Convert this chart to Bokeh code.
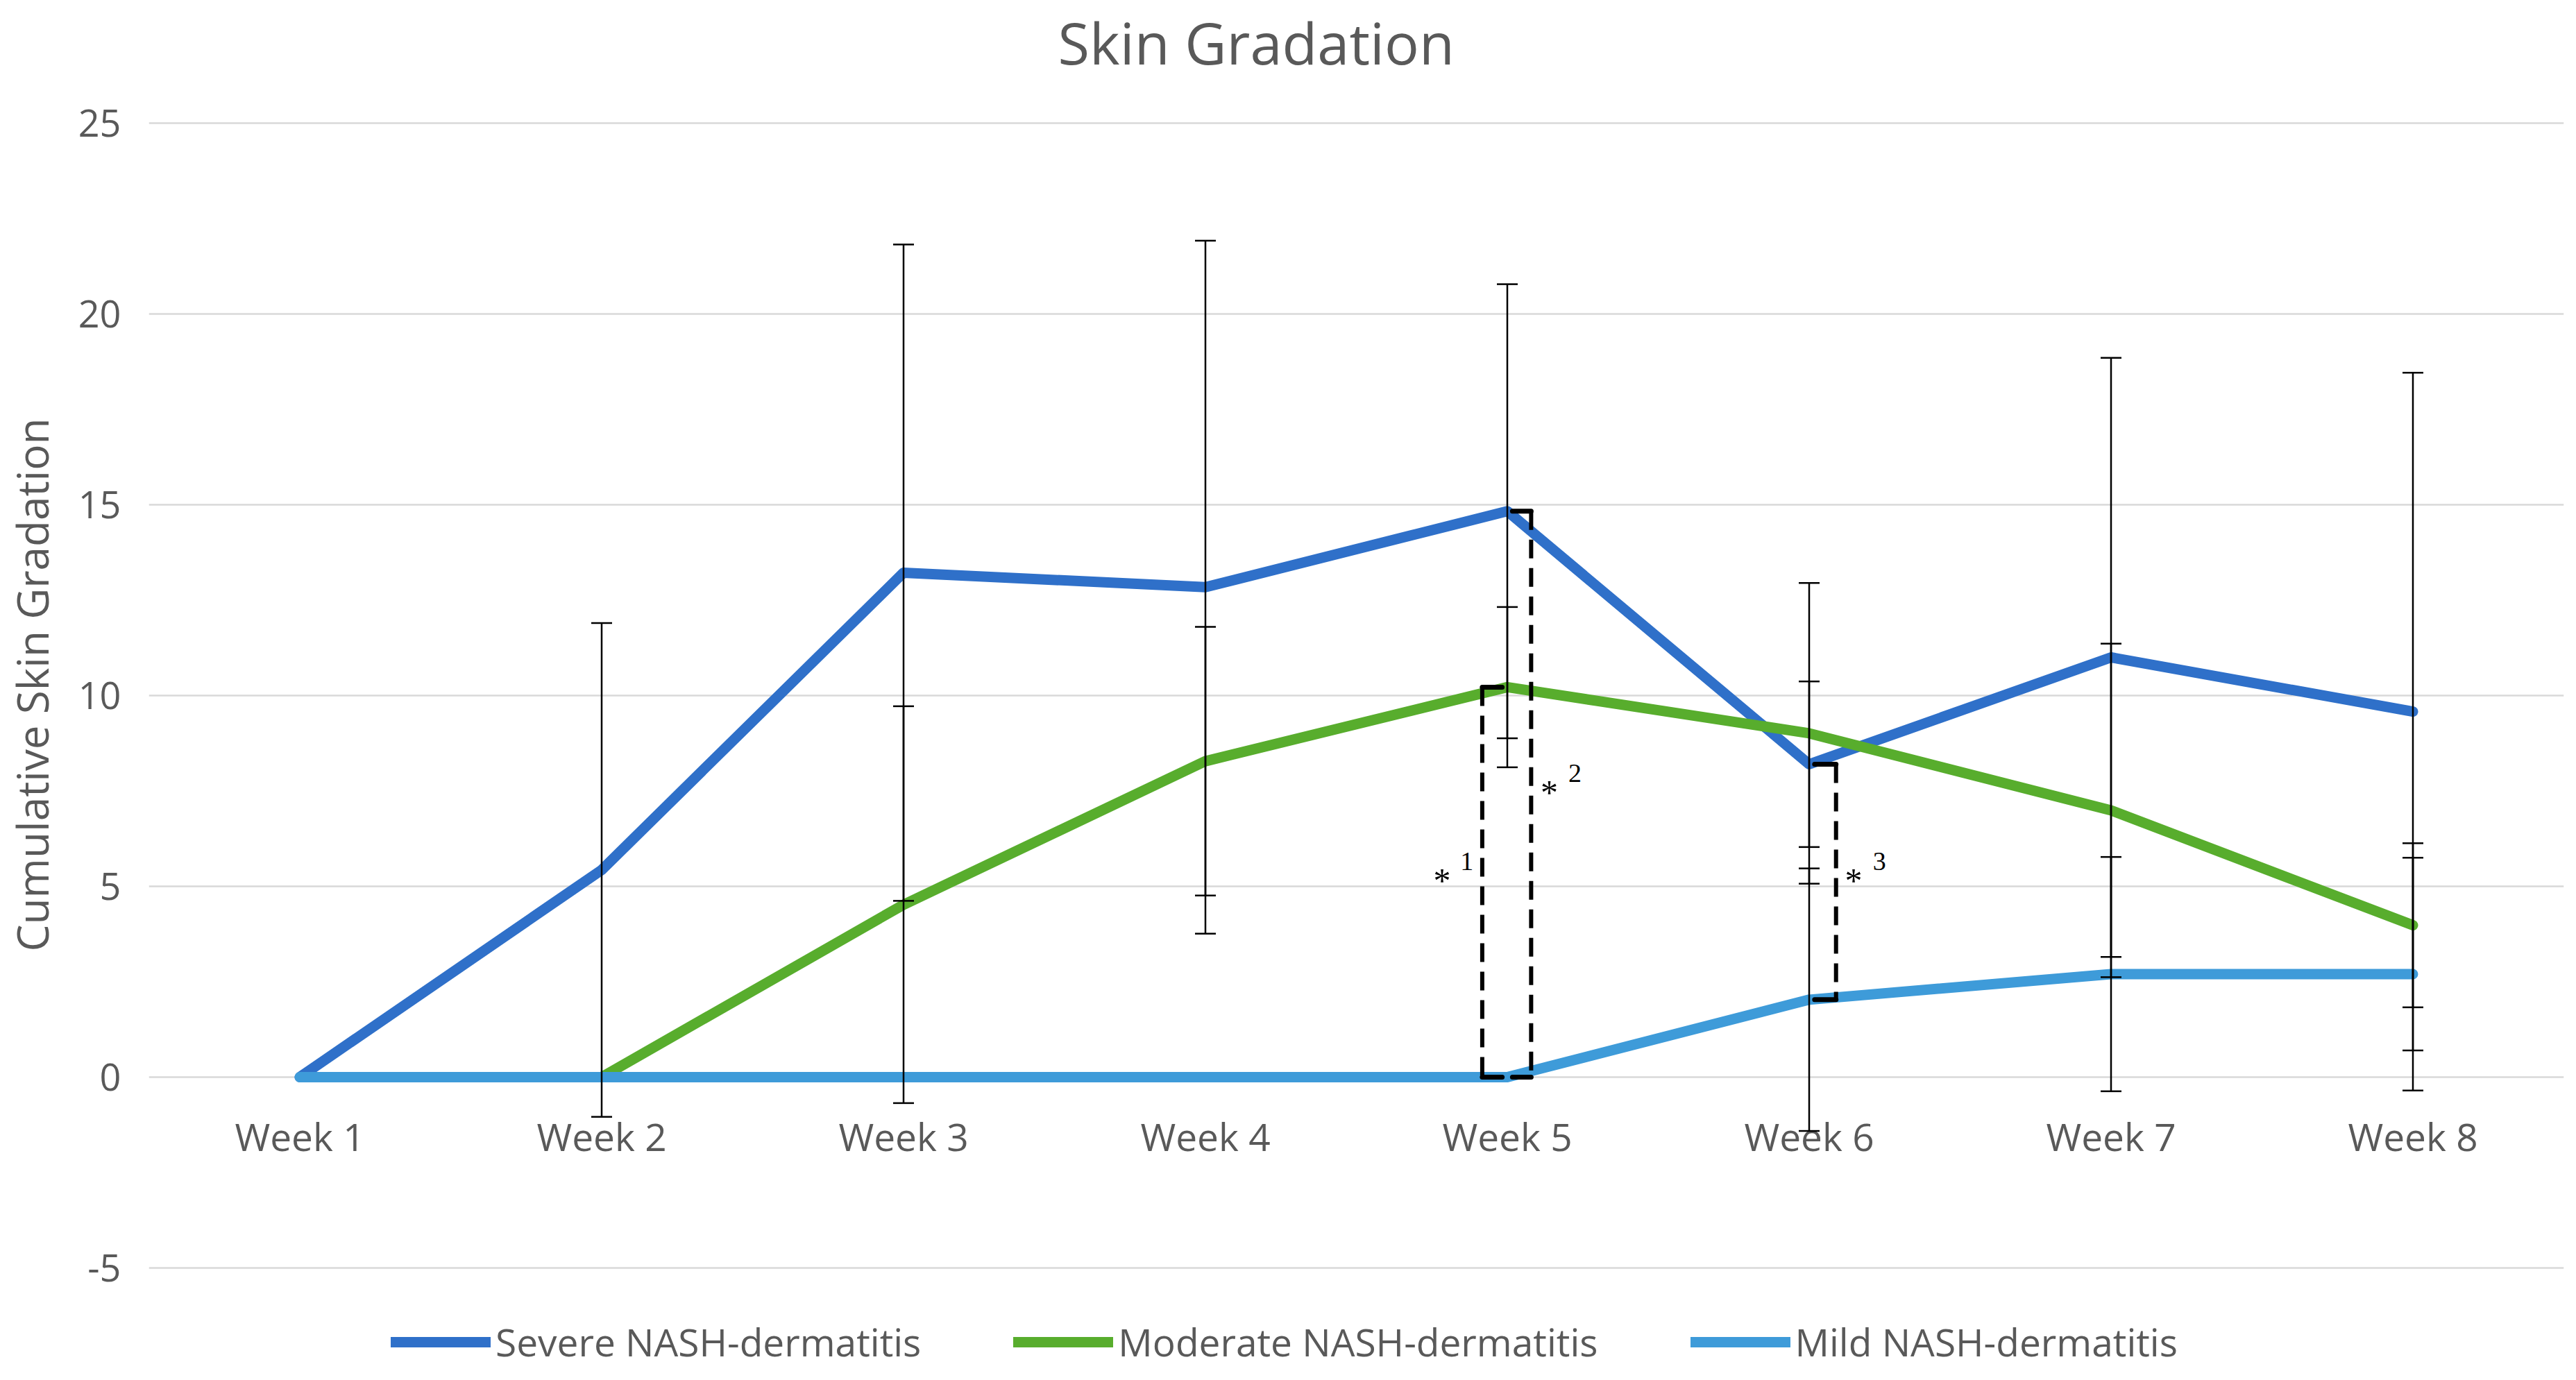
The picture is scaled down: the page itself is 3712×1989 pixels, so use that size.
import numpy as np
from bokeh.plotting import figure
from bokeh.models import (ColumnDataSource, Whisker, TeeHead, Legend, LegendItem,
                          Range1d, FixedTicker)
from bokeh.core.properties import value
from bokeh.embed import file_html
from bokeh.resources import INLINE

# ---------------- data ----------------
weeks = ["Week 1", "Week 2", "Week 3", "Week 4", "Week 5", "Week 6", "Week 7", "Week 8"]

severe       = [0.0, 5.43, 13.22, 12.84, 14.83, 8.20, 11.00, 9.58]
severe_err   = [0.0, 6.47, 8.60, 9.08, 5.95, 2.17, 7.85, 8.88]
moderate     = [np.nan, 0.0, 4.52, 8.28, 10.22, 9.01, 6.99, 3.98]
moderate_err = [0.0, 0.0, 5.20, 3.52, 2.10, 3.94, 4.37, 2.15]
mild         = [0.0, 0.0, 0.0, 0.0, 0.0, 2.03, 2.70, 2.70]
mild_err     = [0.0, 0.0, 0.0, 0.0, 0.0, 3.44, 3.07, 3.05]

series_names = ["Severe NASH-dermatitis", "Moderate NASH-dermatitis", "Mild NASH-dermatitis"]
y_ticks = [-5, 0, 5, 10, 15, 20, 25]
title_text = "Skin Gradation"
y_title = "Cumulative Skin Gradation"

# significance brackets: (week index, upper series, lower series, tag)
brackets = [(4, "moderate", "mild", "1"), (4, "severe", "mild", "2"), (5, "severe", "mild", "3")]

# ---------------- layout / styles ----------------
W, H = 3696, 1973
LEFT = 209            # px reserved for the y axis
TOP_PAD = 177         # px above y=25 (title area)
BOTTOM_PAD = 146      # px below y=-5 (legend area)
PX_PER_UNIT = 55.0
FONT = "Open Sans"
TXT = "#595959"
colors = ["#2F70C9", "#58AD2D", "#3E9BD9"]
# bracket style per tag: (bracket dx, tick dx, star dx, digit dx)
bracket_style = {"1": (-0.083, 0.066, -0.216, -0.134),
                 "2": (0.079, -0.062, 0.139, 0.224),
                 "3": (0.089, -0.071, 0.147, 0.233)}

x = list(range(1, len(weeks) + 1))
data = {"severe": severe, "moderate": moderate, "mild": mild}
errs = {"severe": severe_err, "moderate": moderate_err, "mild": mild_err}

y_lo, y_hi = min(y_ticks), max(y_ticks)
y_min = y_lo - BOTTOM_PAD / PX_PER_UNIT
y_max = y_hi + TOP_PAD / PX_PER_UNIT

p = figure(width=W, height=H, output_backend="svg", toolbar_location=None,
           x_range=Range1d(0.5, len(weeks) + 0.5), y_range=Range1d(y_min, y_max),
           min_border_left=LEFT, min_border_right=2, min_border_top=0, min_border_bottom=0)
p.background_fill_color = "white"
p.border_fill_color = "white"
p.outline_line_color = None

p.xaxis.visible = False
p.xgrid.visible = False
p.ygrid.ticker = FixedTicker(ticks=y_ticks)
p.ygrid.grid_line_color = "#D9D9D9"
p.ygrid.grid_line_width = 2.5

ya = p.yaxis[0]
ya.ticker = FixedTicker(ticks=y_ticks)
ya.major_label_overrides = {t: str(t) for t in y_ticks}
ya.axis_line_color = None
ya.major_tick_line_color = None
ya.minor_tick_line_color = None
ya.major_tick_out = 0
ya.major_tick_in = 0
ya.minor_tick_out = 0
ya.major_label_text_font = FONT
ya.major_label_text_font_size = "54px"
ya.major_label_text_color = TXT
ya.major_label_standoff = 40
ya.axis_label = y_title
ya.axis_label_text_font = FONT
ya.axis_label_text_font_size = "62px"
ya.axis_label_text_font_style = "normal"
ya.axis_label_text_color = TXT
ya.axis_label_text_line_height = 0.75
ya.axis_label_standoff = 22

# chart title (top of its text box kept just inside the canvas)
title_x = 0.5 + (1807 - LEFT) / ((W - LEFT - 2) / len(weeks))
p.text(x=[title_x], y=[y_max - 3 / PX_PER_UNIT], text=[title_text],
       text_align="center", text_baseline="top", text_font=value(FONT),
       text_font_size="83px", text_color=TXT)

# category labels drawn at the y = 0 crossing, as in Excel
p.text(x=x, y=[-1.55] * len(x), text=weeks, text_align="center", text_baseline="alphabetic",
       text_font=value(FONT), text_font_size="55px", text_color=TXT)

# lines
renderers = []
for key, col in zip(["severe", "moderate", "mild"], colors):
    r = p.line(x, data[key], line_color=col, line_width=15, line_cap="round", line_join="round")
    renderers.append(r)

# error bars
for key in ["severe", "moderate", "mild"]:
    xs, up, lo = [], [], []
    for xi, v, e in zip(x, data[key], errs[key]):
        if e > 0 and not np.isnan(v):
            xs.append(xi); up.append(v + e); lo.append(v - e)
    src = ColumnDataSource(dict(x=xs, upper=up, lower=lo))
    w = Whisker(source=src, base="x", upper="upper", lower="lower",
                line_color="black", line_width=2.5, level="overlay",
                upper_head=TeeHead(size=30, line_width=2.5, line_color="black"),
                lower_head=TeeHead(size=30, line_width=2.5, line_color="black"))
    p.add_layout(w)

# significance brackets
for wi, top_key, bot_key, tag in brackets:
    bdx, tdx, sdx, ddx = bracket_style[tag]
    top = data[top_key][wi]
    bot = data[bot_key][wi]
    bx = x[wi] + bdx
    p.segment(x0=[bx], y0=[top], x1=[bx], y1=[bot], line_color="black", line_width=6,
              line_dash="27 14")
    p.segment(x0=[bx, bx], y0=[top, bot], x1=[bx + tdx, bx + tdx], y1=[top, bot],
              line_color="black", line_width=7, line_cap="round")
    mid = (top + bot) / 2
    p.text(x=[x[wi] + sdx], y=[mid + 0.26], text=["*"], text_align="center",
           text_baseline="middle", y_offset=12, text_font=value("Liberation Serif"),
           text_font_size="50px", text_color="black")
    p.text(x=[x[wi] + ddx], y=[mid + 0.54], text=[tag], text_align="center",
           text_baseline="middle", text_font=value("Liberation Serif"),
           text_font_size="38px", text_color="black")

legend = Legend(items=[LegendItem(label=n, renderers=[r]) for n, r in zip(series_names, renderers)],
                orientation="horizontal", location=(349, 2),
                label_text_font=FONT, label_text_font_size="55px", label_text_color=TXT,
                glyph_width=144, glyph_height=40, spacing=133, label_standoff=7,
                border_line_color=None, background_fill_alpha=0, padding=0, margin=0)
p.add_layout(legend, "center")

open("out.html", "w").write(file_html(p, INLINE))
